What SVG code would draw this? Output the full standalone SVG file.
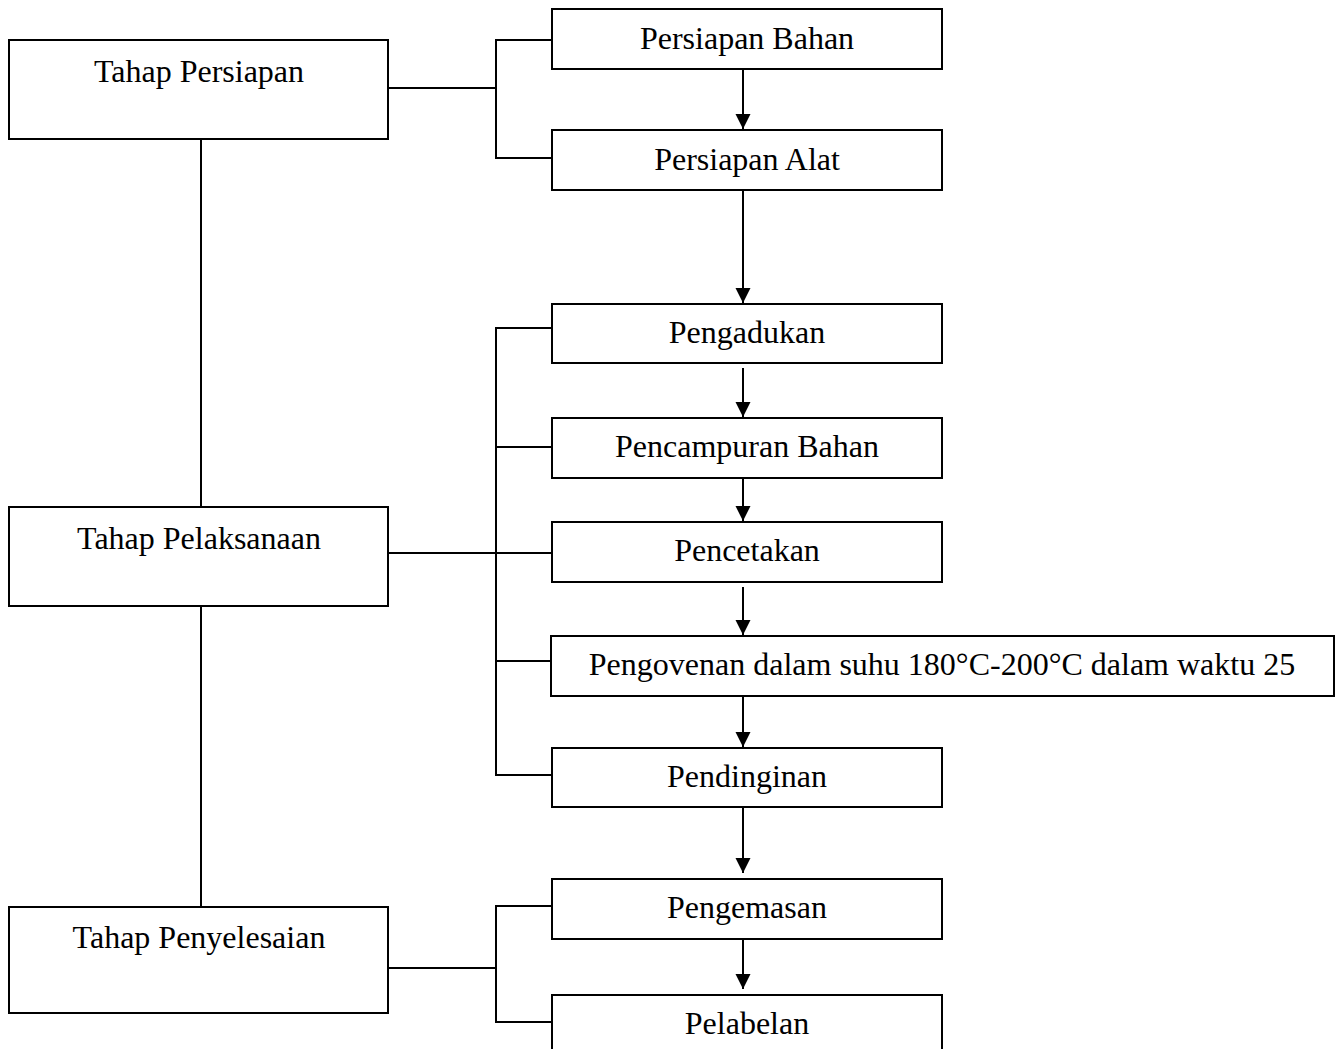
<svg xmlns="http://www.w3.org/2000/svg" width="1341" height="1049" viewBox="0 0 1341 1049">
  <defs>
    <marker id="arrow" markerUnits="userSpaceOnUse" markerWidth="16" markerHeight="16" viewBox="0 0 16 16" refX="15" refY="8" orient="auto">
      <path d="M0,0.5 L15,8 L0,15.5 Z" fill="#000"/>
    </marker>
  </defs>
  <style>
    .box { fill: #fff; stroke: #000; stroke-width: 2; }
    .lbl { font-family: "Liberation Serif", "Times New Roman", serif; font-size: 32px; fill: #000; text-anchor: middle; }
    .ln { fill: none; stroke: #000; stroke-width: 2; }
    .arr { fill: none; stroke: #000; stroke-width: 2; marker-end: url(#arrow); }
  </style>
  <rect width="1341" height="1049" fill="#fff"/>

  <g id="connectors">
    <!-- spine between the three stages -->
    <line class="ln" x1="201" y1="139" x2="201" y2="507"/>
    <line class="ln" x1="201" y1="606" x2="201" y2="907"/>
    <!-- stage 1 bracket -->
    <line class="ln" x1="388" y1="88" x2="496" y2="88"/>
    <path class="ln" d="M552,40 H496 V158 H552"/>
    <!-- stage 2 bracket -->
    <line class="ln" x1="388" y1="553" x2="552" y2="553"/>
    <path class="ln" d="M552,328 H496 V775 H552"/>
    <line class="ln" x1="496" y1="447" x2="552" y2="447"/>
    <line class="ln" x1="496" y1="661" x2="552" y2="661"/>
    <!-- stage 3 bracket -->
    <line class="ln" x1="388" y1="968" x2="496" y2="968"/>
    <path class="ln" d="M552,906 H496 V1022 H552"/>
    <!-- step arrows -->
    <line class="arr" x1="743" y1="69" x2="743" y2="129"/>
    <line class="arr" x1="743" y1="190" x2="743" y2="303"/>
    <line class="arr" x1="743" y1="368" x2="743" y2="417"/>
    <line class="arr" x1="743" y1="478" x2="743" y2="521"/>
    <line class="arr" x1="743" y1="587" x2="743" y2="635"/>
    <line class="arr" x1="743" y1="696" x2="743" y2="747"/>
    <line class="arr" x1="743" y1="807" x2="743" y2="873"/>
    <line class="arr" x1="743" y1="939" x2="743" y2="989"/>
  </g>

  <g id="tahap-persiapan">
    <rect class="box" x="9" y="40" width="379" height="99"/>
    <text class="lbl" x="199" y="82">Tahap Persiapan</text>
  </g>
  <g id="tahap-pelaksanaan">
    <rect class="box" x="9" y="507" width="379" height="99"/>
    <text class="lbl" x="199" y="549">Tahap Pelaksanaan</text>
  </g>
  <g id="tahap-penyelesaian">
    <rect class="box" x="9" y="907" width="379" height="106"/>
    <text class="lbl" x="199" y="948">Tahap Penyelesaian</text>
  </g>

  <g id="persiapan-bahan">
    <rect class="box" x="552" y="9" width="390" height="60"/>
    <text class="lbl" x="747" y="49">Persiapan Bahan</text>
  </g>
  <g id="persiapan-alat">
    <rect class="box" x="552" y="130" width="390" height="60"/>
    <text class="lbl" x="747" y="170">Persiapan Alat</text>
  </g>
  <g id="pengadukan">
    <rect class="box" x="552" y="304" width="390" height="59"/>
    <text class="lbl" x="747" y="343">Pengadukan</text>
  </g>
  <g id="pencampuran-bahan">
    <rect class="box" x="552" y="418" width="390" height="60"/>
    <text class="lbl" x="747" y="457">Pencampuran Bahan</text>
  </g>
  <g id="pencetakan">
    <rect class="box" x="552" y="522" width="390" height="60"/>
    <text class="lbl" x="747" y="561">Pencetakan</text>
  </g>
  <g id="pengovenan">
    <rect class="box" x="551" y="636" width="783" height="60"/>
    <text class="lbl" x="942" y="675">Pengovenan dalam suhu 180°C-200°C dalam waktu 25</text>
  </g>
  <g id="pendinginan">
    <rect class="box" x="552" y="748" width="390" height="59"/>
    <text class="lbl" x="747" y="787">Pendinginan</text>
  </g>
  <g id="pengemasan">
    <rect class="box" x="552" y="879" width="390" height="60"/>
    <text class="lbl" x="747" y="918">Pengemasan</text>
  </g>
  <g id="pelabelan">
    <rect class="box" x="552" y="995" width="390" height="80"/>
    <text class="lbl" x="747" y="1034">Pelabelan</text>
  </g>
</svg>
